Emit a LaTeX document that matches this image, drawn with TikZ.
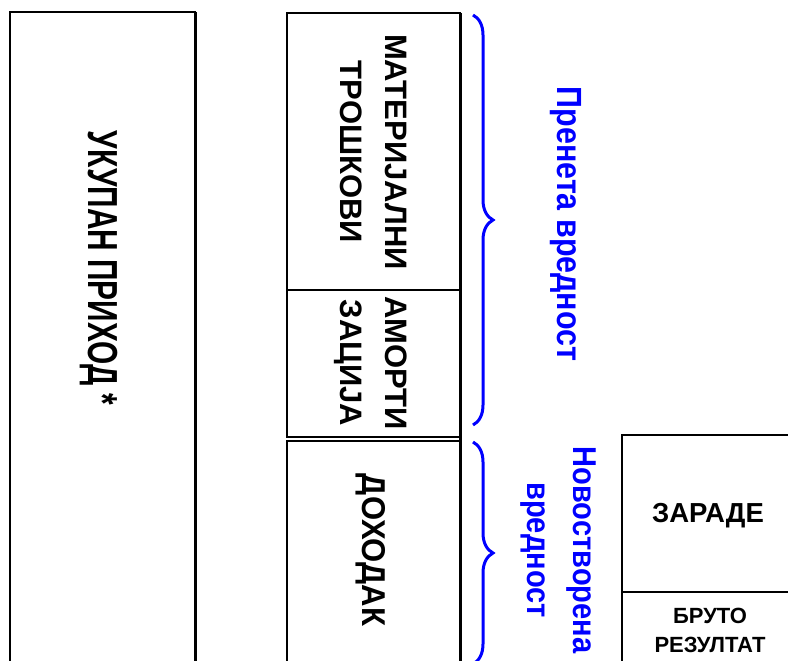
\documentclass[tikz,border=0pt]{standalone}
\usepackage{fontspec}
\setmainfont{Liberation Sans}
\usetikzlibrary{decorations.pathreplacing}
\begin{document}
\begin{tikzpicture}[x=1pt, y=-1pt,
	box/.style={draw, line width=1.4pt},
	shade edge/.style={line width=3pt},
	vlabel/.style={rotate=-90, align=center, inner sep=0pt},
	bluebrace/.style={draw=blue, line width=3pt, decorate, decoration={brace, amplitude=20pt}},
	bluelabel/.style={vlabel, text=blue}]
	\useasboundingbox (0,0) rectangle (788,661);
	\clip (0,0) rectangle (788,661);
	% boxes
	\draw[box] (10,12) rectangle (195,680);
	\draw[shade edge] (195,12) -- (195,680);
	\draw[box] (287,13) rectangle (460,437);
	\draw[box] (287,290) -- (460,290);
	\draw[box] (287,441) rectangle (460,680);
	\draw[shade edge] (460,13) -- (460,680);
	\draw[box] (622,435) rectangle (800,680);
	\draw[box] (622,592) -- (800,592);
	% texts
	\node[vlabel, anchor=base, font=\bfseries\fontsize{42}{46}\selectfont] (income) at (88,268) {\scalebox{0.71}[1]{УКУПАН ПРИХОД *}};
	\node[vlabel, font=\bfseries\fontsize{31}{45}\selectfont] (material) at (374,152) {МАТЕРИЈАЛНИ\\ТРОШКОВИ};
	\node[vlabel, font=\bfseries\fontsize{31}{45}\selectfont] (amort) at (371,363) {АМОРТИ\\ЗАЦИЈА};
	\node[vlabel, anchor=base, font=\bfseries\fontsize{33}{40}\selectfont] (gain) at (362,550) {\scalebox{0.94}[1]{ДОХОДАК}};
	\node[bluelabel, anchor=base, font=\bfseries\fontsize{35}{40}\selectfont] (transfer) at (557,224) {\scalebox{0.87}[1]{Пренета вредност}};
	\node[bluelabel, font=\bfseries\fontsize{33}{46}\selectfont] (newval) at (558,550) {\scalebox{0.88}[1]{Новостворена}\\\scalebox{0.88}[1]{вредност}};
	\node[anchor=base, inner sep=0pt, font=\bfseries\fontsize{27.5}{30}\selectfont] (wages) at (708,522) {ЗАРАДЕ};
	\node[align=center, inner sep=0pt, font=\bfseries\fontsize{22}{29}\selectfont] (result) at (710,630) {БРУТО\\РЕЗУЛТАТ};
	% braces
	\coordinate (b1top) at (473,15);
	\coordinate (b1bot) at (473,425);
	\coordinate (b2top) at (473,442);
	\coordinate (b2bot) at (473,664);
	\draw[bluebrace] (b1top) -- (b1bot);
	\draw[bluebrace] (b2top) -- (b2bot);
\end{tikzpicture}
\end{document}
